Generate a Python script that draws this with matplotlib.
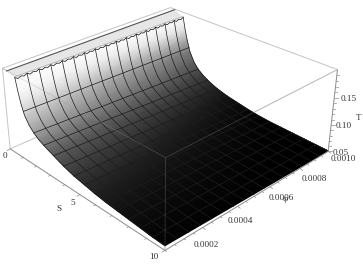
import numpy as np
import matplotlib
matplotlib.use("Agg")
import matplotlib.pyplot as plt

# ---- data
S_values = [0.9, 1.05, 1.2, 1.4, 1.7, 2.0, 2.33, 2.67, 3.0, 3.33, 4.0, 4.67, 5.33,
            6.0, 6.67, 7.33, 8.0, 8.67, 9.33, 10.0]
T_near = [0.195, 0.172, 0.153, 0.135, 0.121, 0.112, 0.105, 0.100, 0.096, 0.092, 0.084, 0.078, 0.074,
          0.070, 0.067, 0.065, 0.063, 0.061, 0.059, 0.058]
T_far = [0.190, 0.167, 0.148, 0.127, 0.109, 0.098, 0.090, 0.084, 0.079, 0.075, 0.069, 0.065, 0.061,
         0.058, 0.056, 0.055, 0.054, 0.053, 0.052, 0.051]
gray_near = [1.00, 0.97, 0.90, 0.80, 0.70, 0.62, 0.54, 0.47, 0.41, 0.36, 0.28, 0.22, 0.17,
             0.13, 0.10, 0.075, 0.055, 0.04, 0.025, 0.012]
gray_far = [1.00, 0.88, 0.66, 0.47, 0.37, 0.30, 0.24, 0.20, 0.16, 0.13, 0.08, 0.05, 0.03,
            0.02, 0.01, 0.005, 0.0, 0.0, 0.0, 0.0]
phi_cols = [0.0, 0.001]
mesh_S = [0.66667 * i for i in range(2, 15)]
mesh_phi = [0.0000625 * i for i in range(0, 17)]
ridge_bumps = [0.0, 0.16, 0.04, 0.13]
S_ticks = [0, 5, 10]
S_minor = list(range(0, 11))
phi_ticks = [0.0002, 0.0004, 0.0006, 0.0008, 0.0010]
phi_minor = [0.00005 * i for i in range(0, 21)]
T_ticks = [0.05, 0.10, 0.15]
T_minor = [0.05 + 0.01 * i for i in range(0, 15)]

# ---- camera: fitted from where the bounding box corners sit in the image
box_lo, box_hi = (0.0, 0.0, 0.05), (10.0, 0.001, 0.20)
corner_ids = [(0, 0, 0), (1, 0, 0), (1, 1, 0), (0, 1, 0), (0, 0, 1), (1, 0, 1), (1, 1, 1), (0, 1, 1)]
corner_px = [(10, 150), (165, 250), (328, 151), (170, 79), (3, 67), (165, 158), (338, 70), (170, 8)]
A = []
for (a, b, c), (u, v) in zip(corner_ids, corner_px):
    p = [a, b, c, 1]
    A.append(p + [0, 0, 0, 0] + [-u * q for q in p])
    A.append([0, 0, 0, 0] + p + [-v * q for q in p])
P = np.linalg.svd(np.array(A, float))[2][-1].reshape(3, 4)


def proj(S, phi, T):
    S, phi, T = np.broadcast_arrays(np.asarray(S, float), np.asarray(phi, float), np.asarray(T, float))
    a = S / box_hi[0]
    b = phi / box_hi[1]
    c = (T - box_lo[2]) / (box_hi[2] - box_lo[2])
    h = np.stack([a, b, c, np.ones_like(a)])
    out = np.tensordot(P, h, axes=1)
    return out[0] / out[2], out[1] / out[2]


fig = plt.figure(figsize=(3.63, 2.67), dpi=100)
ax = fig.add_axes([0, 0, 1, 1])
ax.set_xlim(0, 363)
ax.set_ylim(267, 0)
ax.axis("off")

box_c = "#c4c4c4"
axis_c = "#8a8a8a"
txt_c = "#303030"


def seg(a, b, **kw):
    x, y = proj(*zip(a, b))
    ax.plot(x, y, solid_capstyle="butt", **kw)


L, H = box_lo, box_hi
back_edges = [((L[0], L[1], H[2]), (L[0], H[1], H[2])),
              ((L[0], H[1], H[2]), (H[0], H[1], H[2])),
              ((L[0], L[1], L[2]), (L[0], L[1], H[2]))]
front_edges = [((L[0], L[1], H[2]), (H[0], L[1], H[2])),
               ((H[0], L[1], H[2]), (H[0], H[1], H[2])),
               ((H[0], L[1], L[2]), (H[0], L[1], H[2]))]
for a, b in back_edges + front_edges:
    seg(a, b, color=box_c, lw=0.7, zorder=1)
seg((L[0], L[1], L[2]), (L[0], H[1], L[2]), color=box_c, lw=0.7, zorder=1)
seg((L[0], H[1], L[2]), (H[0], H[1], L[2]), color=box_c, lw=0.7, zorder=1)

# surface
S = np.array(S_values)
PHI = np.linspace(phi_cols[0], phi_cols[1], 9)
w = PHI / phi_cols[1]
SS, FF = np.meshgrid(S, PHI, indexing="ij")
TT = np.outer(T_near, 1 - w) + np.outer(T_far, w)
GG = np.outer(gray_near, 1 - w) + np.outer(gray_far, w)
X, Y = proj(SS, FF, TT)
ax.pcolormesh(X, Y, GG, shading="gouraud", cmap="gray", vmin=0, vmax=1, zorder=2)


def height(s, f):
    u = np.asarray(f) / phi_cols[1]
    return np.interp(s, S, T_near) * (1 - u) + np.interp(s, S, T_far) * u


# mesh
mesh_c = "#1d1d1d"
for s in mesh_S:
    x, y = proj(s, np.array(mesh_phi), height(s, np.array(mesh_phi)))
    ax.plot(x, y, color=mesh_c, lw=0.5, zorder=3)
for f in mesh_phi:
    x, y = proj(S, f, height(S, f))
    ax.plot(x, y, color=mesh_c, lw=0.5, zorder=3)

# clipped lip at the top of the surface
lip_phi = np.array(mesh_phi)
xa, ya = proj(0.30, lip_phi, 0.199)
xb, yb = proj(S_values[0], lip_phi, height(S_values[0], lip_phi))
ax.fill(np.r_[xa, xb[::-1]], np.r_[ya, yb[::-1]], color="#e6e6e6", lw=0, zorder=2.5)
ax.plot(xa, ya, color="#555555", lw=0.8, zorder=3)
ax.plot(xb, yb - 1.0, color="#a8a8a8", lw=0.5, zorder=3)
bump_phi = np.linspace(0, 0.001, 16 * 4 + 1)
bumps = np.resize(ridge_bumps, bump_phi.size)
xr, yr = proj(S_values[0], bump_phi, height(S_values[0], bump_phi) - 0.02 * bumps)
ax.plot(xr, yr, color="#1a1a1a", lw=0.55, zorder=3.2)

# faint front box edges through the surface
for a, b in front_edges:
    seg(a, b, color="#9a9a9a", lw=0.6, alpha=0.3, zorder=4)


# axes ticks
def ticks(values, major, fn, d, length=2.0):
    for v in values:
        x, y = fn(v)
        k = length * (1.7 if any(abs(v - m) < 1e-9 for m in major) else 1.0)
        ax.plot([x, x + d[0] * k], [y, y + d[1] * k], color=axis_c, lw=0.5, zorder=5)


for a, b in [((L[0], L[1], L[2]), (H[0], L[1], L[2])),
             ((H[0], L[1], L[2]), (H[0], H[1], L[2])),
             ((H[0], H[1], L[2]), (H[0], H[1], H[2]))]:
    seg(a, b, color=axis_c, lw=0.7, zorder=5)
ticks(S_minor, S_ticks, lambda v: proj(v, L[1], L[2]), (-0.85, 0.5))
ticks(phi_minor, phi_ticks, lambda v: proj(H[0], v, L[2]), (0.8, 0.55))
ticks(T_minor, T_ticks, lambda v: proj(H[0], H[1], v), (1.0, 0.0))

fs = 6.6


def label(txt, xy, off, **kw):
    ax.annotate(txt, xy=xy, xytext=off, textcoords="offset points", ha="center", va="center",
                fontsize=kw.pop("fs", fs), color=txt_c, zorder=6,
                family=["Liberation Serif", "DejaVu Serif"], **kw)


px = 0.72  # points per pixel
for v, off in zip(S_ticks, [(-5, -7), (-7, -8), (-11, -7)]):
    x, y = proj(v, L[1], L[2])
    label(str(v), (float(x), float(y)), (off[0] * px, off[1] * px))
for v, off in zip(phi_ticks, [(4, -17), (3, -15), (11, -11), (14, -11), (15, -8)]):
    x, y = proj(H[0], v, L[2])
    label(f"{v:.4f}", (float(x), float(y)), (off[0] * px, off[1] * px))
for v, off in zip(T_ticks, [(13, -2), (13, -1), (14, -1)]):
    x, y = proj(H[0], H[1], v)
    label(f"{v:.2f}", (float(x), float(y)), (off[0] * px, off[1] * px))
label("S", proj(5.0, L[1], L[2]), (-21 * px, -14 * px))
label("φ", proj(H[0], 0.0006, L[2]), (15 * px, -12 * px))
label("T", proj(H[0], H[1], 0.125), (26 * px, -6 * px))

fig.savefig("out.png", dpi=100)
